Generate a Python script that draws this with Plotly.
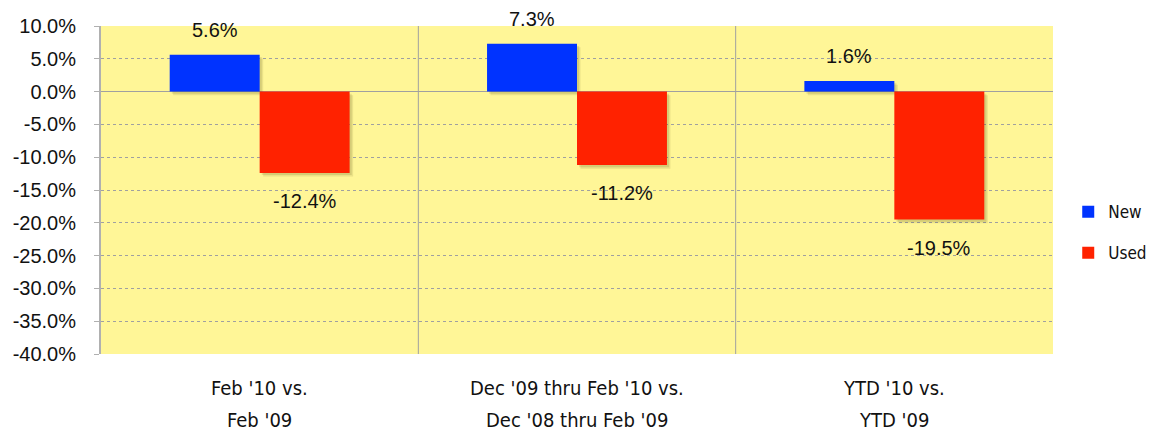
import plotly.graph_objects as go

line1 = ["Feb '10 vs.", "Dec '09 thru Feb '10 vs.", "YTD '10 vs."]
line2 = ["Feb '09", "Dec '08 thru Feb '09", "YTD '09"]
new_vals = [5.6, 7.3, 1.6]
used_vals = [-12.4, -11.2, -19.5]
y_ticks = [10, 5, 0, -5, -10, -15, -20, -25, -30, -35, -40]

idx = list(range(len(line1)))
BLUE = "#0033FF"
RED = "#FF2200"
COND = "DejaVu Sans Condensed, Liberation Sans Narrow, Arial Narrow, sans-serif"
SANS = "Liberation Sans, Arial, sans-serif"

BW = 0.2835          # width of one bar in category units
SDX = 0.011          # shadow shift to the right (category units)
SDY = 0.55           # shadow shift downward (percentage points)

fig = go.Figure()
# soft drop shadows
for vals, off in ((new_vals, -BW), (used_vals, 0.0)):
    for k, a in ((1.0, 0.10), (0.6, 0.12)):
        fig.add_trace(go.Bar(x=idx, y=vals, base=[-SDY * k] * len(vals), offset=off + SDX * k, width=BW,
                             marker=dict(color=f"rgba(60,50,0,{a})", line=dict(width=0)),
                             showlegend=False, hoverinfo="skip"))
fig.add_trace(go.Bar(x=idx, y=new_vals, name="New", offset=-BW, width=BW,
                     marker=dict(color=BLUE, line=dict(width=0)), legendgroup="a"))
fig.add_trace(go.Bar(x=idx, y=used_vals, name="Used", offset=0.0, width=BW,
                     marker=dict(color=RED, line=dict(width=0)), legendgroup="b"))

# data labels
for series, off in ((new_vals, -0.5), (used_vals, 0.5)):
    for i, v in enumerate(series):
        fig.add_annotation(x=i, y=v, xref="x", yref="y", text=f"{v:.1f}%", showarrow=False,
                           xshift=off * 90, yshift=25 if v > 0 else -28, yanchor="middle",
                           font=dict(family=SANS, size=20, color="#111"))

# category labels (two lines)
for i in idx:
    for t, sh in ((line1[i], -34), (line2[i], -66)):
        fig.add_annotation(x=i, y=0, xref="x", yref="paper", text=t, showarrow=False,
                           yanchor="middle", yshift=sh, font=dict(family=COND, size=20, color="#111"))

# vertical separators between categories
for b in [i + 0.5 for i in idx[:-1]]:
    fig.add_shape(type="line", x0=b, x1=b, y0=0, y1=1, xref="x", yref="paper",
                  line=dict(color="#A0A0A0", width=1), layer="below")

fig.update_layout(
    width=1146, height=421,
    margin=dict(l=93, r=101, t=18, b=75, autoexpand=False),
    paper_bgcolor="white", plot_bgcolor="#FFF697",
    barmode="overlay",
    font=dict(family=SANS, size=18, color="#111"),
    showlegend=True,
    legend=dict(x=1.016, y=0.37, xanchor="left", yanchor="middle", traceorder="grouped",
                tracegroupgap=16, itemwidth=30, font=dict(family=COND, size=17),
                bgcolor="rgba(0,0,0,0)"),
    xaxis=dict(tickmode="array", tickvals=idx, showticklabels=False, range=[-0.5, len(idx) - 0.5],
               showgrid=False, zeroline=False, showline=False, ticks=""),
    yaxis=dict(range=[-40, 10], tickmode="array", tickvals=y_ticks,
               ticktext=[f"{v:.1f}%" for v in y_ticks],
               showgrid=True, gridcolor="#A0A0A0", griddash="dot", gridwidth=1,
               zeroline=True, zerolinecolor="#A0A0A0", zerolinewidth=1,
               showline=True, linecolor="#B0B0B0", linewidth=2, ticks="outside",
               ticklen=5, tickcolor="#B0B0B0", ticklabelstandoff=14,
               tickfont=dict(family=SANS, size=20)),
)

fig.write_html("out.html")
